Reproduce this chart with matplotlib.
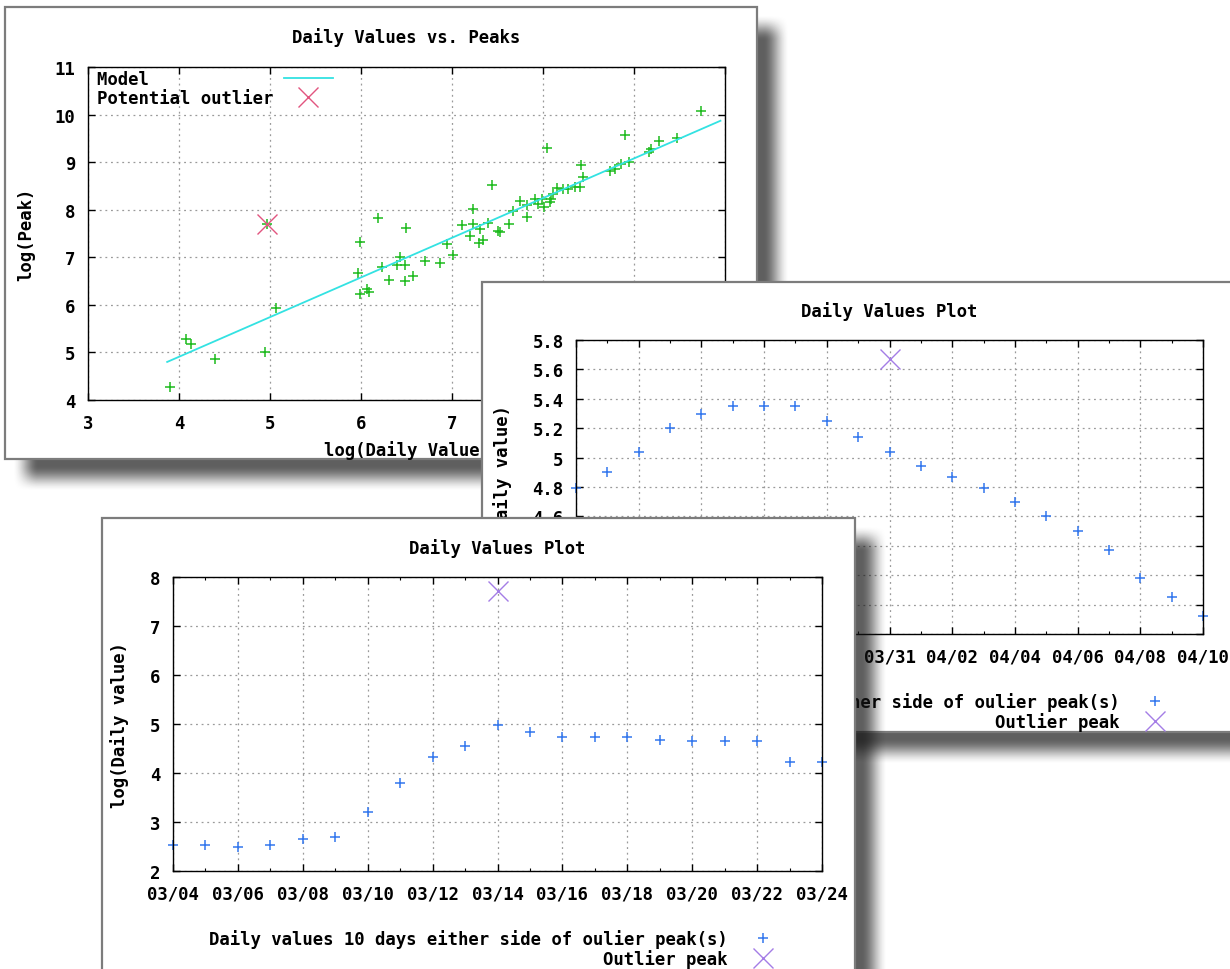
import numpy as np
import pandas as pd
import matplotlib
matplotlib.use('Agg')
import matplotlib.pyplot as plt
import matplotlib.dates as mdates
from matplotlib.patches import Rectangle
from matplotlib.ticker import FuncFormatter

## three overlapping gnuplot-style windows: peaks scatter + two daily value plots

W, H = 1230, 970
FS = 12.4

# --- chart 1: log(Daily Value) vs log(Peak)
peak_x = [3.90, 4.08, 4.13, 4.40, 4.95, 4.97, 5.07, 5.97, 5.99, 6.07, 6.09, 5.99, 6.19,
          6.23, 6.31, 6.40, 6.43, 6.48, 6.48, 6.49, 6.57, 6.70, 6.87, 6.95, 7.01, 7.11,
          7.20, 7.23, 7.23, 7.30, 7.31, 7.34, 7.40, 7.44, 7.51, 7.53, 7.63, 7.67, 7.75,
          7.82, 7.82, 7.91, 7.95, 7.99, 8.01, 8.04, 8.08, 8.09, 8.11, 8.15, 8.22, 8.28,
          8.35, 8.41, 8.42, 8.44, 8.74, 8.79, 8.86, 8.90, 8.94, 9.16, 9.19, 9.27, 9.47, 9.74]
peak_y = [4.27, 5.29, 5.18, 4.87, 5.01, 7.71, 5.94, 6.67, 6.23, 6.34, 6.27, 7.32, 7.83,
          6.80, 6.53, 6.84, 7.00, 6.84, 6.50, 7.61, 6.60, 6.92, 6.88, 7.27, 7.04, 7.67,
          7.45, 8.01, 7.70, 7.29, 7.60, 7.36, 7.73, 8.52, 7.55, 7.53, 7.70, 7.98, 8.19,
          8.09, 7.84, 8.23, 8.12, 8.23, 8.05, 9.29, 8.16, 8.23, 8.33, 8.45, 8.44, 8.44,
          8.47, 8.47, 8.94, 8.68, 8.82, 8.86, 8.96, 9.58, 9.01, 9.21, 9.28, 9.45, 9.50, 10.07]
model_x = [3.87, 9.95]
model_y = [4.80, 9.87]
outlier1_x = [4.97]
outlier1_y = [7.71]

# --- chart 2: daily values around 03/31
dates2 = pd.date_range('2011-03-21', '2011-04-10')
vals2 = [4.79, 4.90, 5.04, 5.20, 5.30, 5.35, 5.35, 5.35, 5.25, 5.14, 5.04,
         4.94, 4.87, 4.79, 4.70, 4.60, 4.50, 4.37, 4.18, 4.05, 3.92]
outlier2_date = pd.to_datetime(['2011-03-31'])
outlier2_val = [5.67]

# --- chart 3: daily values around 03/14
dates3 = pd.date_range('2011-03-04', '2011-03-24')
vals3 = [2.54, 2.54, 2.48, 2.54, 2.65, 2.70, 3.21, 3.80, 4.32, 4.55, 4.98,
         4.83, 4.73, 4.73, 4.73, 4.67, 4.66, 4.65, 4.65, 4.23, 4.23]
outlier3_date = pd.to_datetime(['2011-03-14'])
outlier3_val = [7.71]

green = '#1dbb1d'
cyan = '#33e2e2'
pink = '#e2557f'
blue = '#3377ee'
purple = '#a47de6'

plt.rcParams['font.family'] = 'DejaVu Sans Mono'
plt.rcParams['font.weight'] = 'bold'
plt.rcParams['font.size'] = FS

fig = plt.figure(figsize=(W / 100, H / 100), dpi=100)
fig.patch.set_facecolor('white')


def fbox(x0, y0, x1, y1):
    # pixel box (top-left origin) -> figure fraction
    return [x0 / W, 1 - y1 / H, (x1 - x0) / W, (y1 - y0) / H]


def smooth(t):
    t = np.clip(t, 0, 1)
    return t * t * (3 - 2 * t)


def window(z, x0, y0, x1, y1, off=20, blur=13):
    lay = fig.add_axes([0, 0, 1, 1], zorder=z)
    lay.set_axis_off()
    xs = np.arange(x0 + off - blur, x1 + off + blur)
    ys = np.arange(y0 + off - blur, y1 + off + blur)
    ax_ = smooth((xs - xs[0]) / (2 * blur)) * smooth((xs[-1] - xs) / (2 * blur))
    ay_ = smooth((ys - ys[0]) / (2 * blur)) * smooth((ys[-1] - ys) / (2 * blur))
    rgba = np.zeros((len(ys), len(xs), 4))
    rgba[..., :3] = 0.08
    rgba[..., 3] = 0.68 * np.outer(ay_, ax_)
    lay.imshow(rgba, extent=(xs[0], xs[-1] + 1, ys[-1] + 1, ys[0]),
               origin='upper', interpolation='bilinear', aspect='auto')
    lay.add_patch(Rectangle((x0, y0), x1 - x0, y1 - y0, facecolor='white',
                            edgecolor='#7c7c7c', lw=1.6))
    lay.set_xlim(0, W)
    lay.set_ylim(H, 0)


def style(ax):
    for s in ax.spines.values():
        s.set_color('black')
        s.set_linewidth(1.0)
    ax.tick_params(which='both', direction='in', top=True, right=True, colors='black')
    ax.tick_params(which='major', length=5, width=1)
    ax.tick_params(which='minor', length=2.5, width=0.8)
    ax.tick_params(axis='x', pad=10)
    ax.tick_params(axis='y', pad=9)
    ax.grid(True, which='major', color='#9a9a9a', linestyle=(0, (1.5, 3)), linewidth=0.9)
    ax.set_axisbelow(True)


leg_kw = dict(frameon=False, markerfirst=False, borderpad=0, borderaxespad=0,
              handlelength=2.8, handletextpad=0.64, labelspacing=0.05)

# ---------------- window 1
window(0, 5, 8, 757, 460)
ax1 = fig.add_axes(fbox(88, 68, 725, 401), zorder=1)
style(ax1)
ax1.plot(peak_x, peak_y, '+', color=green, ms=7.5, mew=1.1, clip_on=False)
ax1.plot(model_x, model_y, color=cyan, lw=1.3, label='Model' + ' ' * 12)
ax1.plot(outlier1_x, outlier1_y, 'x', color=pink, ms=14.5, mew=1.0, label='Potential outlier')
ax1.set_xlim(3, 10)
ax1.set_ylim(4, 11)
ax1.set_xticks(range(3, 11))
ax1.set_yticks(range(4, 12))
# tick labels 8..10 sit under the second window
for lab in ax1.get_xticklabels()[5:]:
    lab.set_visible(False)
ax1.set_title('Daily Values vs. Peaks', y=1 + 30 / 333, va='center', pad=0,
              fontweight='bold', fontsize=FS)
ax1.set_xlabel('log(Daily Value)', fontweight='bold')
ax1.set_ylabel('log(Peak)', fontweight='bold')
ax1.xaxis.set_label_coords(0.5, -0.12)
ax1.yaxis.set_label_coords(-0.083, 0.5)
ax1.legend(loc='upper left', bbox_to_anchor=(0.014, 0.99), **leg_kw)

# ---------------- window 2
window(2, 482, 283, 1245, 733)
ax2 = fig.add_axes(fbox(576, 341, 1203, 635), zorder=3)
style(ax2)
ax2.plot(dates2, vals2, '+', color=blue, ms=7.5, mew=1.1, clip_on=False,
         label='Daily values 10 days either side of oulier peak(s)')
ax2.plot(outlier2_date, outlier2_val, 'x', color=purple, ms=14.5, mew=1.0,
         clip_on=False, label='Outlier peak')
ax2.set_xlim(dates2[0], dates2[-1])
ax2.set_ylim(3.8, 5.8)
ax2.set_xticks(pd.date_range(dates2[0], dates2[-1], freq='2D'))
ax2.set_xticks(dates2, minor=True)
ax2.xaxis.set_major_formatter(mdates.DateFormatter('%m/%d'))
ax2.set_yticks(np.arange(3.8, 5.81, 0.2))
ax2.yaxis.set_major_formatter(FuncFormatter(lambda v, p: f'{round(v, 1):g}'))
# lower y labels and early dates sit under the third window
for lab in ax2.get_yticklabels()[:4]:
    lab.set_visible(False)
for lab in ax2.get_xticklabels()[:5]:
    lab.set_visible(False)
ax2.set_title('Daily Values Plot', y=1 + 29 / 294, va='center', pad=0,
              fontweight='bold', fontsize=FS)
ax2.set_ylabel('log(Daily value)', fontweight='bold')
ax2.yaxis.set_label_coords(-0.102, 0.5)
ax2.legend(loc='upper right', bbox_to_anchor=(0.962, -0.197), **leg_kw)

# ---------------- window 3
window(4, 102, 519, 855, 1000)
ax3 = fig.add_axes(fbox(173, 578, 822, 872), zorder=5)
style(ax3)
ax3.plot(dates3, vals3, '+', color=blue, ms=7.5, mew=1.1, clip_on=False,
         label='Daily values 10 days either side of oulier peak(s)')
ax3.plot(outlier3_date, outlier3_val, 'x', color=purple, ms=14.5, mew=1.0,
         clip_on=False, label='Outlier peak')
ax3.set_xlim(dates3[0], dates3[-1])
ax3.set_ylim(2, 8)
ax3.set_xticks(pd.date_range(dates3[0], dates3[-1], freq='2D'))
ax3.set_xticks(dates3, minor=True)
ax3.xaxis.set_major_formatter(mdates.DateFormatter('%m/%d'))
ax3.set_yticks(range(2, 9))
ax3.set_title('Daily Values Plot', y=1 + 29 / 294, va='center', pad=0,
              fontweight='bold', fontsize=FS)
ax3.set_ylabel('log(Daily value)', fontweight='bold')
ax3.yaxis.set_label_coords(-0.068, 0.5)
ax3.legend(loc='upper right', bbox_to_anchor=(0.946, -0.197), **leg_kw)

fig.savefig('out.png', dpi=100)
